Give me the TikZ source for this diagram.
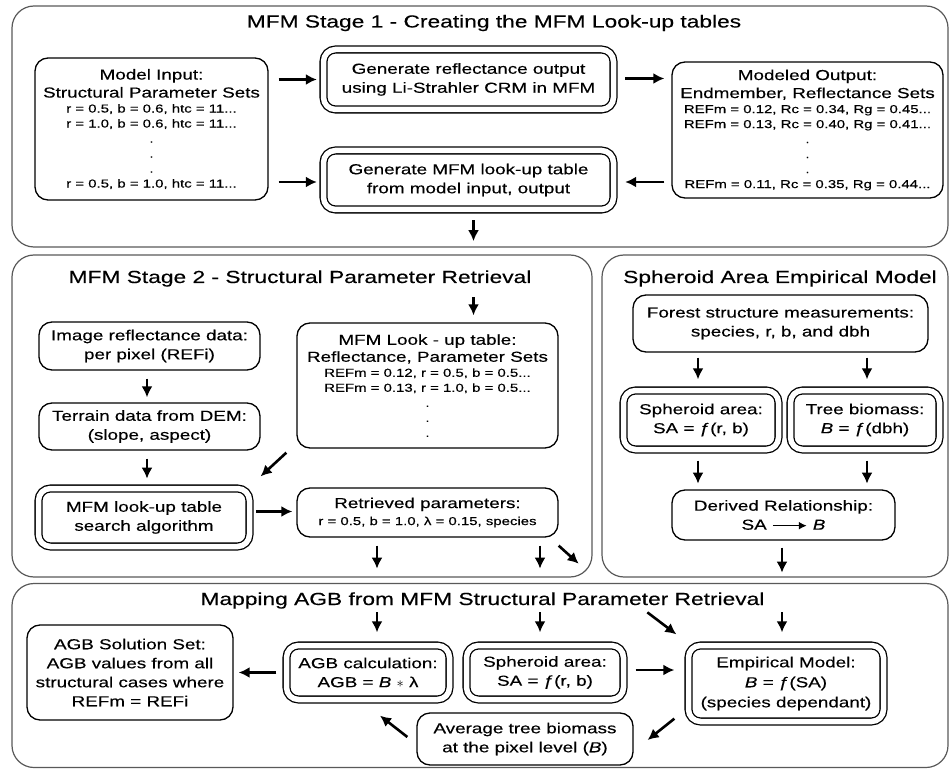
\documentclass[tikz,border=0pt]{standalone}
\usepackage{fontspec}
\setmainfont{Liberation Sans}[FakeStretch=1.3,FakeBold=0.3]
\usetikzlibrary{arrows.meta,calc}
\newcommand{\bodyfs}{\fontsize{14.5}{19}\selectfont}
\newcommand{\mixfs}{\fontsize{14.5}{15}\selectfont}
\newcommand{\sm}{\fontsize{11.5}{15}\selectfont}
\newcommand{\titlefs}{\fontsize{17.5}{21}\selectfont}
\newcommand{\boldarrow}{\tikz[baseline=-4pt]\draw[line width=1.6pt,-{Latex[length=8pt,width=8pt]}] (0pt,0pt) -- (34pt,0pt);}
\tikzset{
  panel/.style={draw=black!65, line width=1.2pt, rounded corners=22pt, inner sep=0pt},
  box/.style={draw, line width=1.3pt, rounded corners=13pt, align=center, inner sep=0pt, font=\bodyfs},
  dbox/.style={draw, double, double distance=5.5pt, line width=1.3pt, rounded corners=12pt, align=center, inner sep=0pt, font=\bodyfs},
  arr/.style={line width=2.6pt, -{Latex[length=11pt,width=11pt]}},
  ttl/.style={font=\titlefs, anchor=base, inner sep=0pt}
}
\begin{document}
\begin{tikzpicture}[x=1pt,y=-1pt]
\useasboundingbox (0,0) rectangle (951,770);
% panels
\node[panel, minimum width=936, minimum height=241] (p1) at (480,126.5) {};
\node[panel, minimum width=580, minimum height=322] (p2) at (302,416) {};
\node[panel, minimum width=346, minimum height=322] (p3) at (775,416) {};
\node[panel, minimum width=936, minimum height=184] (p4) at (480,675.5) {};
% titles
\node[ttl] (t1) at (494,27.5) {MFM Stage 1 - Creating the MFM Look-up tables};
\node[ttl] (t2) at (300,283) {MFM Stage 2 - Structural Parameter Retrieval};
\node[ttl] (t3) at (780,283) {Spheroid Area Empirical Model};
\node[ttl] (t4) at (482.5,605) {Mapping AGB from MFM Structural Parameter Retrieval};
% stage 1
\node[box, font=\mixfs, minimum width=233, minimum height=142] (mi) at (151.5,129)
 {Model Input:\\[3pt] Structural Parameter Sets\\ \sm r = 0.5, b = 0.6, htc = 11...\\ \sm r = 1.0, b = 0.6, htc = 11...\\ \sm .\\ \sm .\\ \sm .\\ \sm r = 0.5, b = 1.0, htc = 11...};
\node[dbox, minimum width=290, minimum height=60] (gr) at (468.5,79.5)
 {Generate reflectance output\\ using Li-Strahler CRM in MFM};
\node[dbox, minimum width=290, minimum height=59] (gl) at (468.5,180)
 {Generate MFM look-up table\\ from model input, output};
\node[box, font=\mixfs, minimum width=271, minimum height=136] (mo) at (807.5,130)
 {Modeled Output:\\[3pt] Endmember, Reflectance Sets\\ \sm REFm = 0.12, Rc = 0.34, Rg = 0.45...\\ \sm REFm = 0.13, Rc = 0.40, Rg = 0.41...\\ \sm .\\ \sm .\\ \sm .\\ \sm REFm = 0.11, Rc = 0.35, Rg = 0.44...};
% stage 2
\node[box, minimum width=221, minimum height=48] (ir) at (149.5,346)
 {Image reflectance data:\\ per pixel (REFi)};
\node[box, minimum width=221, minimum height=47] (td) at (149.5,426.5)
 {Terrain data from DEM:\\ (slope, aspect)};
\node[dbox, minimum width=211, minimum height=58] (sa) at (144,517.5)
 {MFM look-up table\\ search algorithm};
\node[box, font=\mixfs, minimum width=261, minimum height=125] (lut) at (427.5,385.5)
 {MFM Look - up table:\\[2pt] Reflectance, Parameter Sets\\ \sm REFm = 0.12, r = 0.5, b = 0.5...\\ \sm REFm = 0.13, r = 1.0, b = 0.5...\\ \sm .\\ \sm .\\ \sm .};
\node[box, font=\fontsize{14.5}{17}\selectfont, minimum width=261, minimum height=49] (rp) at (427.5,512.5)
 {Retrieved parameters:\\ \sm r = 0.5, b = 1.0, λ = 0.15, species};
% spheroid panel
\node[box, minimum width=295, minimum height=57] (fs) at (780.5,323.5)
 {Forest structure measurements:\\ species, r, b, and dbh};
\node[dbox, minimum width=155, minimum height=59] (sa1) at (701,420)
 {Spheroid area:\\ SA = ƒ(r, b)};
\node[dbox, minimum width=149, minimum height=59] (tb) at (865,420)
 {Tree biomass:\\ \textit{B} = ƒ(dbh)};
\node[box, minimum width=223, minimum height=50] (dr) at (783.5,515)
 {Derived Relationship:\\ SA \boldarrow\ \textit{B}};
% bottom panel
\node[box, minimum width=206, minimum height=95] (as) at (130,672.5)
 {AGB Solution Set:\\ AGB values from all\\ structural cases where\\ REFm = REFi};
\node[dbox, minimum width=163, minimum height=54] (ac) at (368,672.5)
 {AGB calculation:\\ AGB = \textit{B} $\ast$ λ};
\node[dbox, minimum width=157, minimum height=54] (sa2) at (545,672.5)
 {Spheroid area:\\ SA = ƒ(r, b)};
\node[dbox, font=\fontsize{14.5}{20}\selectfont, minimum width=195, minimum height=76] (em) at (786,683.5)
 {Empirical Model:\\ \textit{B} = ƒ(SA)\\ (species dependant)};
\node[box, minimum width=216, minimum height=52] (at) at (525,739)
 {Average tree biomass\\ at the pixel level (\textit{B})};
% arrows stage 1
\draw[arr] ($(mi.east |- gr.west)+(10,0)$) -- ($(gr.west)+(-6,0)$);
\draw[arr] ($(mi.east |- gl.west)+(10,2)$) -- ($(gl.west)+(-6,2)$);
\draw[arr] ($(gr.east)+(11,-1)$) -- ($(gr.east -| mo.west)+(-7,-1)$);
\draw[arr] ($(gl.east -| mo.west)+(-7,2)$) -- ($(gl.east)+(11,2)$);
\draw[arr] ($(gl.south)+(5,10)$) -- ($(gl.south)+(5,31)$);
% arrows stage 2
\draw[arr] ($(lut.north -| gl.south)+(5,-25)$) -- ($(lut.north -| gl.south)+(5,-7)$);
\draw[arr] ($(ir.south)+(-2.5,8)$) -- ($(td.north)+(-2.5,-5)$);
\draw[arr] ($(td.south)+(-2.5,8)$) -- ($(td.south)+(-2.5,28)$);
\draw[arr] ($(lut.south west)+(-10,4)$) -- ($(sa.north east)+(10.5,-11.5)$);
\draw[arr] ($(sa.east |- rp.west)+(6,-1)$) -- ($(rp.west)+(-4,-1)$);
\draw[arr] ($(rp.south)+(-50.5,8)$) -- ($(rp.south)+(-50.5,31)$);
\draw[arr] ($(rp.south)+(112.5,8)$) -- ($(rp.south)+(112.5,31)$);
\draw[arr] ($(rp.south east)+(0,8)$) -- ($(rp.south east)+(20,26)$);
% arrows spheroid panel
\draw[arr] ($(fs.south -| sa1.north)+(-3,5)$) -- ($(sa1.north)+(-3,-10.5)$);
\draw[arr] ($(fs.south -| tb.north)+(2,5)$) -- ($(tb.north)+(2,-10.5)$);
\draw[arr] ($(sa1.south)+(-3,10.5)$) -- ($(sa1.south)+(-3,33.5)$);
\draw[arr] ($(tb.south)+(2,10.5)$) -- ($(tb.south)+(2,33.5)$);
\draw[arr] ($(dr.south)+(-1.5,7)$) -- ($(dr.south)+(-1.5,32)$);
% arrows bottom panel
\draw[arr] ($(ac.north)+(9,-32.5)$) -- ($(ac.north)+(9,-12.5)$);
\draw[arr] ($(sa2.north)+(-5,-32.5)$) -- ($(sa2.north)+(-5,-12.5)$);
\draw[arr] ($(em.north west)+(-40.5,-32.5)$) -- ($(em.north west)+(-11.5,-10.5)$);
\draw[arr] ($(em.north)+(-4,-32.5)$) -- ($(em.north)+(-4,-12.5)$);
\draw[arr] ($(ac.west)+(-9.5,0)$) -- ($(as.east)+(5,0)$);
\draw[arr] ($(sa2.east)+(11.5,-2.5)$) -- ($(em.west |- sa2.east)+(-13.5,-2.5)$);
\draw[arr] ($(em.south west)+(-13.5,-3.5)$) -- ($(at.east)+(14,1)$);
\draw[arr] ($(at.west)+(-9,-2)$) -- ($(ac.south)+(12,15.5)$);
\end{tikzpicture}
\end{document}
